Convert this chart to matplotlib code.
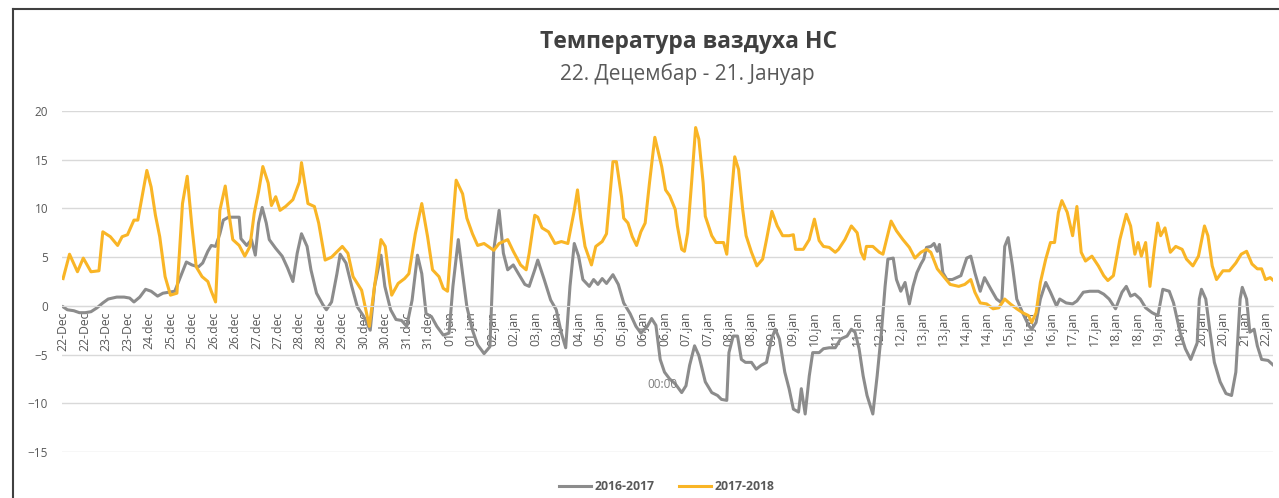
import matplotlib
matplotlib.use("Agg")
import matplotlib.pyplot as plt
from matplotlib.lines import Line2D

FONT = ['Open Sans', 'DejaVu Sans']
plt.rcParams['font.family'] = FONT

# category labels on the x axis (one every ~half day)
x_labels = ['22-Dec', '22-Dec', '23-Dec', '23-Dec', '24.dec', '25.dec', '25.dec',
            '26.dec', '26.dec', '27.dec', '27.dec', '28.dec', '28.dec', '29.dec',
            '30.dec', '30.dec', '31.dec', '31.dec', '01.jan', '01.jan', '02.jan',
            '02.jan', '03.jan', '03.jan', '04.jan', '05.jan', '05.jan', '06.jan',
            '06.jan', '07.jan', '07.jan', '08.jan', '08.jan', '09.jan', '09.jan',
            '10.jan', '11.jan', '11.jan', '12.jan', '12.jan', '13.jan', '13.jan',
            '14.jan', '14.jan', '15.jan', '16.jan', '16.jan', '17.jan', '17.jan',
            '18.jan', '18.jan', '19.jan', '19.jan', '20.jan', '20.jan', '21.jan',
            '22.jan']

# 2017-2018, position in label slots / temperature
t_1718 = [0.0, 0.3, 0.67, 0.94, 1.3, 1.67, 1.85, 2.2, 2.54, 2.75, 3.0, 3.3, 3.48, 3.9,
          4.1, 4.3, 4.5, 4.75, 5.0, 5.3, 5.56, 5.78, 6.0, 6.2, 6.47, 6.74, 6.9, 7.1,
          7.3, 7.55, 7.7, 7.9, 8.2, 8.46, 8.7, 8.9, 9.1, 9.3, 9.55, 9.7, 9.9, 10.1,
          10.36, 10.7, 11.0, 11.1, 11.4, 11.7, 11.9, 12.2, 12.5, 13.0, 13.26, 13.5,
          13.9, 14.26, 14.5, 14.8, 15.0, 15.2, 15.3, 15.6, 15.9, 16.1, 16.4, 16.7,
          16.97, 17.2, 17.5, 17.7, 17.9, 18.1, 18.3, 18.6, 18.8, 19.06, 19.3, 19.6,
          20.05, 20.3, 20.7, 20.96, 21.3, 21.56, 21.7, 21.96, 22.1, 22.3, 22.6, 22.9,
          23.2, 23.5, 23.8, 23.95, 24.1, 24.3, 24.6, 24.8, 25.1, 25.3, 25.6, 25.76,
          26.0, 26.1, 26.3, 26.5, 26.7, 26.9, 27.1, 27.3, 27.55, 27.87, 28.05, 28.24,
          28.5, 28.6, 28.8, 28.93, 29.08, 29.26, 29.45, 29.6, 29.8, 29.9, 30.2, 30.4,
          30.75, 30.9, 31.1, 31.27, 31.45, 31.64, 31.8, 32.05, 32.3, 32.57, 32.75,
          33.0, 33.25, 33.5, 33.8, 34.0, 34.1, 34.46, 34.74, 34.98, 35.2, 35.4, 35.67,
          35.95, 36.1, 36.4, 36.7, 36.97, 37.15, 37.3, 37.4, 37.7, 38.0, 38.17, 38.55,
          38.8, 39.1, 39.4, 39.66, 39.94, 40.2, 40.4, 40.7, 40.96, 41.3, 41.7, 41.98,
          42.26, 42.45, 42.7, 43.0, 43.3, 43.56, 43.84, 44.1, 44.4, 44.67, 44.95, 45.1,
          45.3, 45.5, 45.75, 45.97, 46.16, 46.34, 46.5, 46.75, 47.0, 47.2, 47.4, 47.6,
          47.9, 48.2, 48.45, 48.64, 48.9, 49.2, 49.5, 49.7, 49.9, 50.05, 50.2, 50.4,
          50.6, 50.8, 50.96, 51.1, 51.3, 51.55, 51.8, 52.1, 52.3, 52.6, 52.86, 53.14,
          53.3, 53.5, 53.7, 54.0, 54.3, 54.6, 54.85, 55.1, 55.35, 55.6, 55.8, 55.98,
          56.2, 56.35]
temp_1718 = [2.8, 5.3, 3.5, 4.9, 3.5, 3.6, 7.6, 7.1, 6.2, 7.1, 7.3, 8.8, 8.8, 13.9,
             12.2, 9.3, 7.1, 3.0, 1.1, 1.3, 10.5, 13.3, 8.1, 4.0, 3.0, 2.5, 1.5, 0.4,
             9.8, 12.3, 9.8, 6.8, 6.2, 5.1, 6.1, 9.5, 11.7, 14.3, 12.6, 10.3, 11.2, 9.8,
             10.2, 10.9, 12.7, 14.7, 10.5, 10.2, 8.5, 4.7, 5.0, 6.1, 5.4, 3.0,
             1.6, -2.1, 2.0, 6.8, 6.1, 2.5, 1.1, 2.3, 2.8, 3.3, 7.4, 10.5,
             7.1, 3.7, 3.0, 1.8, 1.5, 7.4, 12.9, 11.5, 9.0, 7.4, 6.2, 6.4,
             5.7, 6.4, 6.8, 5.6, 4.2, 3.7, 5.4, 9.3, 9.1, 8.0, 7.6, 6.4,
             6.6, 6.4, 9.8, 11.9, 9.0, 6.1, 4.2, 6.1, 6.6, 7.4, 14.8, 14.8,
             11.2, 9.0, 8.5, 7.1, 6.2, 7.6, 8.5, 12.6, 17.3, 14.3, 11.9, 11.3,
             9.9, 8.2, 5.8, 5.6, 7.5, 12.6, 18.3, 17.1, 12.6, 9.2, 7.2, 6.5,
             6.5, 5.3, 10.9, 15.3, 14.0, 9.9, 7.2, 5.5, 4.1, 4.8, 6.8,
             9.7, 8.2, 7.2, 7.2, 7.3, 5.8, 5.8, 6.8, 8.9, 6.7, 6.1, 6.0,
             5.5, 5.8, 6.8, 8.2, 7.5, 5.5, 4.8, 6.1, 6.1, 5.5, 5.3, 8.7,
             7.7, 6.8, 6.0, 4.9, 5.5, 5.8, 5.5, 3.8, 3.1, 2.2, 2.0, 2.2,
             2.7, 1.4, 0.3, 0.2, -0.3, -0.2, 0.7, 0.2, -0.3, -0.7, -1.0, -1.7,
             -0.7, 2.4, 4.8, 6.5, 6.5, 9.6, 10.8, 9.6, 7.2, 10.2, 5.5, 4.6,
             5.1, 4.1, 3.1, 2.6, 3.1, 6.8, 9.4, 8.2, 5.3, 6.5, 5.1, 6.5,
             2.0, 5.8, 8.5, 7.2, 8.0, 5.5, 6.1, 5.8, 4.8, 4.1, 5.1, 8.2,
             7.2, 4.1, 2.7, 3.6, 3.6, 4.4, 5.3, 5.6, 4.3, 3.8, 3.8, 2.7,
             2.9, 2.6]

# 2016-2017
t_1617 = [0.0, 0.2, 0.5, 0.76, 1.03, 1.3, 1.58, 1.85, 2.1, 2.5, 2.84, 3.1, 3.3, 3.57,
          3.84, 4.1, 4.4, 4.65, 4.93, 5.2, 5.47, 5.74, 6.0, 6.3, 6.5, 6.74, 6.9, 7.1,
          7.3, 7.46, 7.7, 8.0, 8.2, 8.28, 8.55, 8.77, 8.95, 9.1, 9.27, 9.46, 9.6,
          9.9, 10.2, 10.45, 10.7, 10.9, 11.1, 11.36, 11.54, 11.8, 12.1, 12.26, 12.5,
          12.75, 12.9, 13.17, 13.44, 13.7, 14.0, 14.3, 14.5, 14.8, 14.98, 15.25, 15.5,
          15.76, 16.0, 16.25, 16.5, 16.7, 16.9, 17.15, 17.4, 17.7, 17.97, 18.15, 18.4,
          18.6, 18.8, 19.06, 19.3, 19.6, 19.87, 20.05, 20.3, 20.5, 20.7, 20.96, 21.2,
          21.5, 21.7, 21.96, 22.1, 22.4, 22.7, 22.96, 23.2, 23.4, 23.6, 23.8, 24.0,
          24.2, 24.5, 24.7, 24.9, 25.1, 25.3, 25.6, 25.85, 26.1, 26.4, 26.67, 26.9,
          27.2, 27.4, 27.6, 27.8, 28.0, 28.24, 28.5, 28.8, 29.0, 29.17, 29.4, 29.6,
          29.9, 30.2, 30.47, 30.65, 30.9, 31.0, 31.2, 31.4, 31.58, 31.77, 32.05,
          32.27, 32.5, 32.75, 32.98, 33.16, 33.35, 33.6, 33.8, 34.0, 34.24, 34.37,
          34.55, 34.74, 34.9, 35.2, 35.4, 35.67, 35.95, 36.2, 36.5, 36.7, 36.87,
          37.06, 37.25, 37.43, 37.7, 37.9, 38.1, 38.27, 38.4, 38.65, 38.8, 39.0,
          39.2, 39.4, 39.57, 39.75, 39.94, 40.07, 40.2, 40.4, 40.55, 40.7, 40.8,
          40.96, 41.15, 41.4, 41.8, 42.07, 42.26, 42.45, 42.7, 42.9, 43.2, 43.46,
          43.7, 43.84, 44.0, 44.2, 44.4, 44.67, 44.95, 45.1, 45.3, 45.5, 45.75,
          45.97, 46.25, 46.4, 46.7, 47.0, 47.2, 47.5, 47.8, 48.2, 48.45, 48.7, 49.0,
          49.3, 49.5, 49.7, 49.9, 50.15, 50.4, 50.7, 50.97, 51.2, 51.5, 51.7, 52.0,
          52.25, 52.5, 52.8, 52.9, 53.0, 53.2, 53.4, 53.6, 53.87, 54.14, 54.4, 54.6,
          54.8, 54.9, 55.1, 55.25, 55.45, 55.6, 55.8, 56.1, 56.35]
temp_1617 = [-0.1, -0.4, -0.5, -0.7, -0.7, -0.6, -0.2, 0.3, 0.7, 0.9, 0.9, 0.8, 0.4, 0.9,
             1.7, 1.5, 1.0, 1.3, 1.4, 1.5, 3.0, 4.5, 4.2, 4.0, 4.4, 5.6, 6.2, 6.1,
             7.4, 8.8, 9.1, 9.1, 9.1, 6.9, 6.2, 6.8, 5.2, 8.5, 10.1, 8.5, 6.8,
             5.9, 5.1, 3.9, 2.5, 5.4, 7.4, 6.1, 3.7, 1.3, 0.1, -0.4, 0.4,
             3.3, 5.3, 4.4, 2.0, -0.1, -1.1, -2.5, 2.0, 5.2, 2.0, -0.4, -1.4,
             -1.5, -2.1, 0.6, 5.2, 3.3, -0.8, -1.1, -2.1, -3.0, -2.8, 2.0, 6.8,
             3.3, -0.1, -2.5, -4.0, -4.9, -4.2, 5.7, 9.8, 5.4, 3.7, 4.2, 3.3,
             2.2, 2.0, 3.7, 4.7, 2.7, 0.6, -0.4, -2.8, -4.3, 2.0, 6.4, 5.1,
             2.7, 2.0, 2.7, 2.2, 2.8, 2.3, 3.2, 2.2, 0.3, -0.8, -2.1, -2.8,
             -2.1, -1.3, -2.0, -5.5, -6.8, -7.5, -8.0, -8.9, -8.2, -6.1, -4.1, -5.1,
             -7.8, -8.9, -9.2, -9.6, -9.7, -4.8, -3.1, -3.1, -5.5, -5.8, -5.8,
             -6.5, -6.1, -5.8, -3.4, -2.4, -3.4, -6.8, -8.5, -10.6, -10.9, -8.5,
             -11.1, -7.2, -4.8, -4.8, -4.4, -4.3, -4.3, -3.4, -3.1, -2.4, -2.7,
             -4.4, -7.2, -9.2, -11.1, -7.2, -2.7, 2.0, 4.8, 4.9, 2.7, 1.5,
             2.4, 0.2, 2.0, 3.4, 4.3, 4.8, 6.0, 6.1, 6.4, 5.6, 6.3,
             3.4, 2.7, 2.7, 3.1, 4.9, 5.1, 3.4, 1.5, 2.9, 1.7, 0.7,
             0.3, 6.1, 7.0, 4.1, 0.7, -0.7, -2.0, -2.4, -1.7, 0.7, 2.4,
             1.4, 0.0, 0.7, 0.3, 0.2, 0.5, 1.4, 1.5, 1.5, 1.2, 0.7, -0.3,
             1.4, 2.0, 1.0, 1.2, 0.7, -0.2, -0.7, -1.0, 1.7, 1.5, 0.3, -2.7,
             -4.4, -5.5, -3.8, 0.7, 1.7, 0.7, -2.7, -5.8, -7.8, -9.0, -9.2, -6.8,
             0.7, 1.9, 0.7, -2.7, -2.4, -4.1, -5.5, -5.6, -6.1]

GRAY = '#8c8c8c'
ORANGE = '#f9b526'
TXT = '#595959'

fig = plt.figure(figsize=(12.79, 4.98), dpi=100)
ax = fig.add_axes([62 / 1279, 1 - 452 / 498, 1211 / 1279, 341 / 498])

ax.plot(t_1617, temp_1617, color=GRAY, lw=2.2, label='2016-2017', solid_joinstyle='round')
ax.plot(t_1718, temp_1718, color=ORANGE, lw=2.2, label='2017-2018', solid_joinstyle='round')

ax.set_ylim(-15, 20)
ax.set_xlim(-0.05, 56.33)
ax.set_yticks(range(-15, 21, 5))
ax.grid(axis='y', color='#d9d9d9', lw=1)
ax.set_axisbelow(True)
for s in ['top', 'right', 'left']:
    ax.spines[s].set_visible(False)
ax.spines['bottom'].set_position(('data', 0))
ax.spines['bottom'].set_color('#d9d9d9')

ax.set_xticks(range(len(x_labels)))
ax.set_xticklabels(x_labels, rotation=90, fontsize=8.8, color=TXT)
ax.tick_params(axis='x', length=0, pad=4)
ax.tick_params(axis='y', length=0, pad=10, labelsize=8.5, labelcolor=TXT)

ax.text(27.9, -8.1, '00:00', fontsize=8.5, color='#7f7f7f', ha='center', va='center')

fig.text(0.538, 1 - 42 / 498, 'Температура ваздуха НС', ha='center', va='center',
         fontsize=16.5, fontweight='bold', color='#404040')
fig.text(0.537, 1 - 74 / 498, '22. Децембар - 21. Јануар', ha='center', va='center',
         fontsize=15, color=TXT)

leg = fig.legend(loc='center', bbox_to_anchor=(667 / 1279, 1 - 487 / 498), ncol=2,
                 frameon=False, handlelength=2.6, columnspacing=2.0,
                 handletextpad=0.3, prop={'size': 8.8, 'weight': 'bold'})
for txt in leg.get_texts():
    txt.set_color(TXT)

# chart frame (left and top edges visible in the crop)
fig.add_artist(Line2D([13 / 1279, 13 / 1279], [0, 1 - 9 / 498], color='#404040', lw=1.5))
fig.add_artist(Line2D([13 / 1279, 1], [1 - 9 / 498, 1 - 9 / 498], color='#404040', lw=1.5))

fig.savefig('out.png', dpi=100)
